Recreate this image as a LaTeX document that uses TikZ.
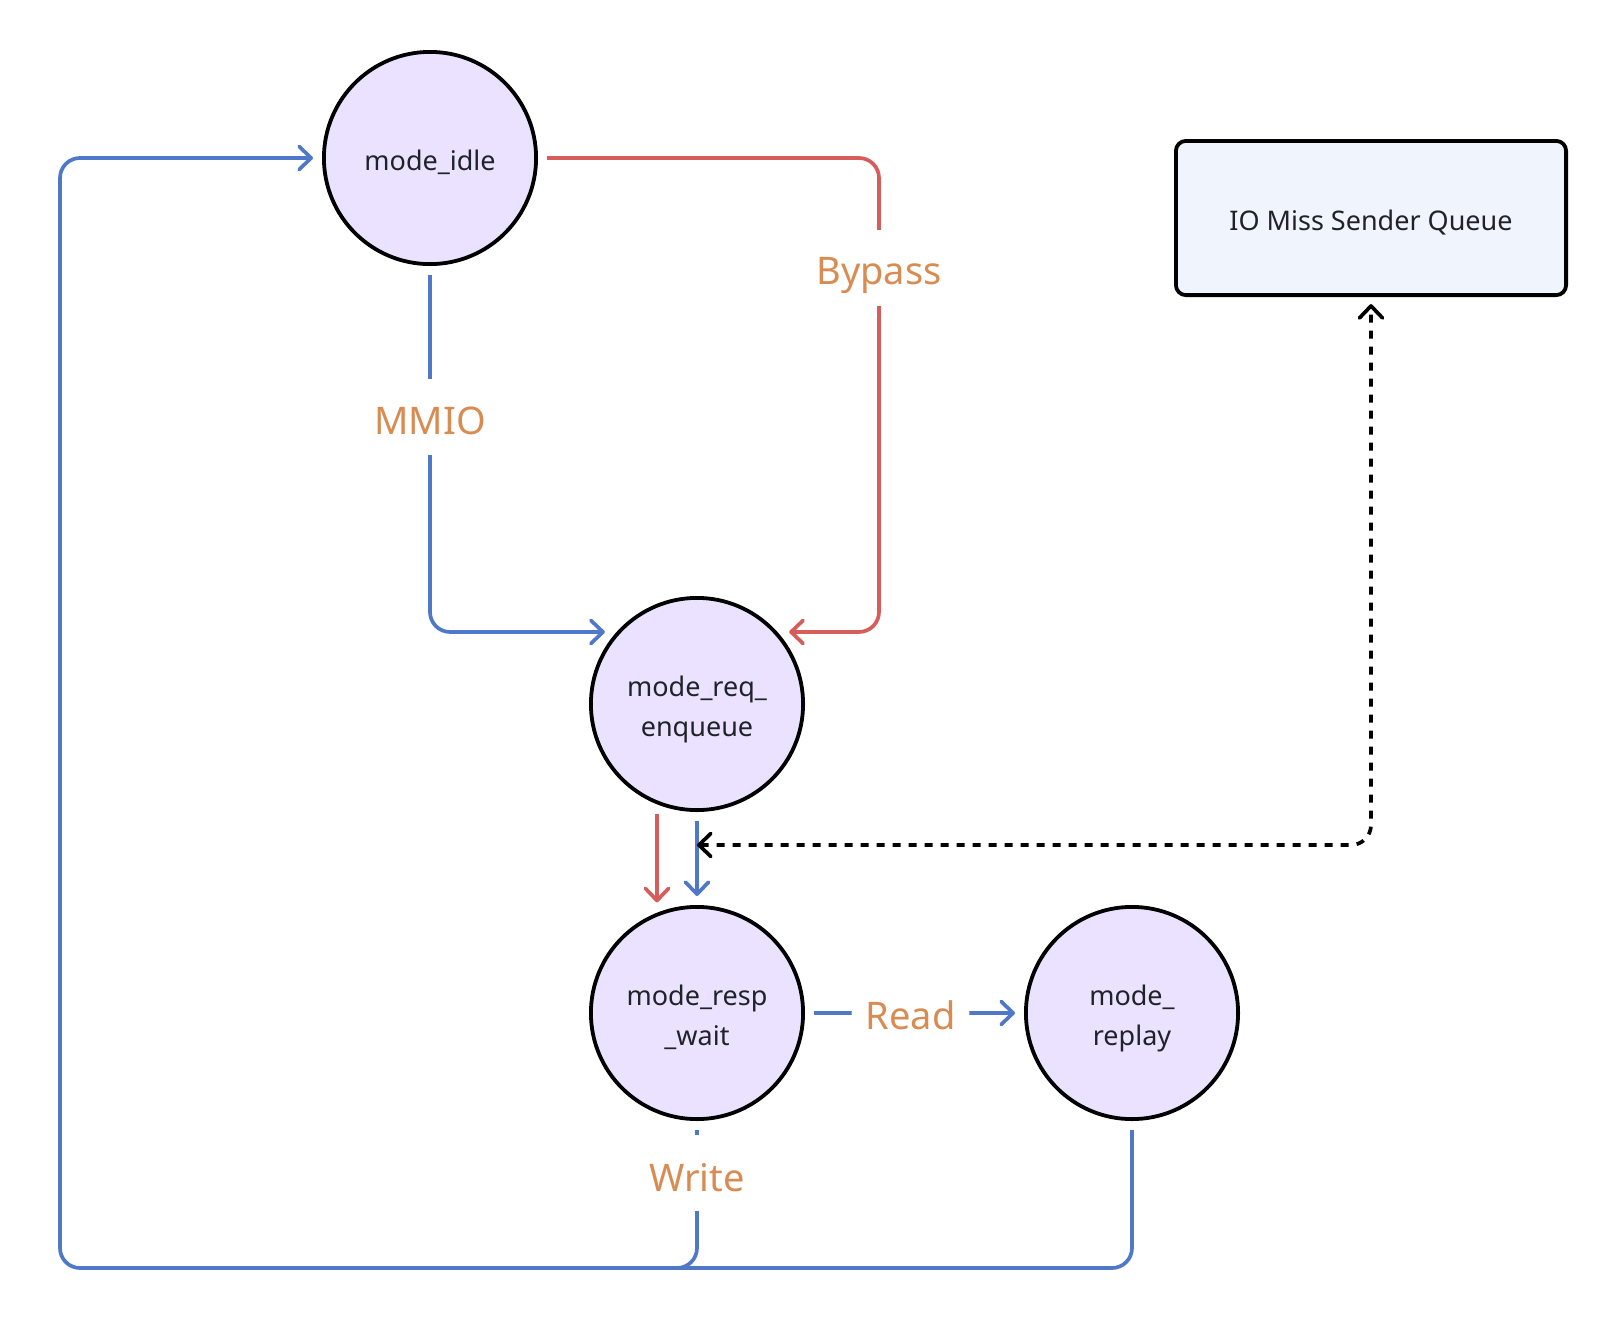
\documentclass[tikz,border=0pt]{standalone}
\usepackage{fontspec}
\setmainfont{Noto Sans}
\usetikzlibrary{arrows.meta,calc}
\definecolor{cblue}{HTML}{5078C8}
\definecolor{cred}{HTML}{D65D5A}
\definecolor{corange}{HTML}{D98C52}
\definecolor{cfill}{HTML}{EAE2FE}
\definecolor{cbox}{HTML}{EFF4FD}
\definecolor{ctext}{HTML}{1F2329}
\newcommand{\lowr}[2]{\raisebox{-#1}[\height][\depth]{#2}}
\newcommand{\twol}[2]{\lowr{4.5pt}{\begin{tabular}{@{}c@{}}#1\\#2\end{tabular}}}
\tikzset{
  state/.style={circle, draw=black, line width=3.8pt, fill=cfill, minimum size=212.2pt, inner sep=0pt, outer sep=10.9pt, align=center, text=ctext, font=\fontsize{27}{40}\selectfont},
  queuebox/.style={rectangle, rounded corners=10pt, draw=black, line width=3.8pt, fill=cbox, minimum width=390.2pt, minimum height=154.2pt, outer sep=9pt, text=ctext, font=\fontsize{27}{40}\selectfont},
  conn/.style={line width=3.7pt, rounded corners=20pt},
  barb/.tip={Straight Barb[length=12pt,width=23pt,line cap=round,line join=round]},
  tip/.style={-barb},
  bluel/.style={conn, draw=cblue},
  redl/.style={conn, draw=cred},
  lbl/.style={fill=white, text=corange, font=\fontsize{38}{44}\selectfont, inner xsep=14pt, inner ysep=0pt, minimum height=76pt},
}
\begin{document}
\begin{tikzpicture}[x=1pt,y=-1pt]
\useasboundingbox (0,0) rectangle (1620,1334);
% nodes
\node[state] (idle) at (430,158) {\lowr{4pt}{mode\_idle}};
\node[state] (enq) at (697,704) {\twol{mode\_req\_}{enqueue}};
\node[state] (resp) at (697,1013) {\twol{mode\_resp}{\_wait}};
\node[state] (replay) at (1132,1013) {\twol{mode\_}{replay}};
\node[queuebox] (queue) at (1371,218) {\lowr{5pt}{IO Miss Sender Queue}};
% helper coordinates
\coordinate (bpx) at (879,0);
\coordinate (bl) at (60,1268);
\path (enq.south) -- coordinate[pos=0.32] (dtip) (resp.north);
% connectors
\draw[redl,tip] (idle.east) -| (bpx |- enq.38) -- (enq.38);
\node[lbl] (lbypass) at (879,268) {\lowr{7pt}{Bypass}};
\draw[bluel,tip] (idle.south) |- (enq.142);
\node[lbl] (lmmio) at (430,417) {\lowr{4pt}{MMIO}};
\draw[redl,tip] (enq.250.5) -- (resp.109.5 -| enq.250.5);
\draw[bluel,tip] (enq.south) -- (resp.north);
\draw[conn, draw=black, dash pattern=on 8pt off 8pt, barb-barb] (dtip) -| (queue.south);
\draw[bluel,tip] (resp.east) -- node[lbl, minimum height=40pt, xshift=-4pt] (lread) {\lowr{2.5pt}{Read}} (replay.west);
\draw[bluel] (replay.south) |- ($(resp.south |- bl)+(-20,0)$);
\draw[bluel,tip] (resp.south) |- (bl) |- (idle.west);
\node[lbl] (lwrite) at (697,1173) {\lowr{5pt}{Write}};
\end{tikzpicture}
\end{document}
